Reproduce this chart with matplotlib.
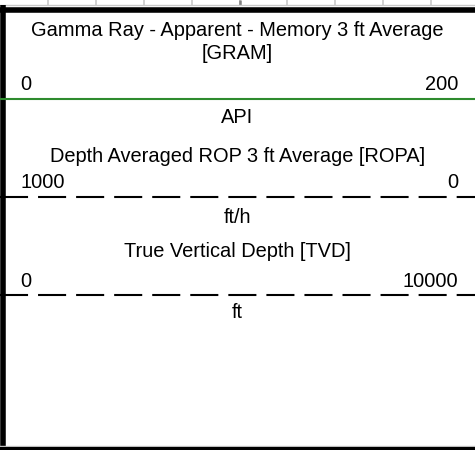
import matplotlib
matplotlib.use("Agg")
import matplotlib.pyplot as plt
import numpy as np

# curve header data (top to bottom)
curve_titles = [
    ["Gamma Ray - Apparent - Memory 3 ft Average", "[GRAM]"],
    ["Depth Averaged ROP 3 ft Average [ROPA]"],
    ["True Vertical Depth [TVD]"],
]
scale_left = ["0", "1000", "0"]
scale_right = ["200", "0", "10000"]
units = ["API", "ft/h", "ft"]

# styles / layout (pixel coordinates, y down)
line_colors = ["#2e8b2e", "black", "black"]
line_dashes = [None, (20.2, 7.2), (20.2, 7.2)]
title_baselines = [[36, 59], [162], [257]]
scale_baseline = [90, 188, 287]
line_y = [98.5, 197, 295]
unit_baseline = [123, 223, 318]

W, H = 475, 450
plt.rcParams["font.family"] = ["Liberation Sans", "DejaVu Sans"]
plt.rcParams["lines.scale_dashes"] = False
FS = 14.4

fig = plt.figure(figsize=(W / 100, H / 100), dpi=100)
ax = fig.add_axes([0, 0, 1, 1])
ax.set_xlim(0, W)
ax.set_ylim(H, 0)
ax.axis("off")

# strip of the track grid above the header
grid_x = np.arange(1, 10) * 47.9
ax.vlines(grid_x, 0, 5, color="#c8c8c8", lw=1.2)
ax.vlines(grid_x[4], 0, 5, color="#808080", lw=1.8)
ax.axhline(5, color="#c8c8c8", lw=1)
ax.axhline(9.5, color="black", lw=4)

# header frame
ax.plot([2.5, 2.5], [5, H], color="black", lw=4, solid_capstyle="butt")
ax.axhline(446, color="#d0d0d0", lw=1)
ax.axhline(448.5, color="black", lw=3)

for i in range(len(units)):
    for txt, yb in zip(curve_titles[i], title_baselines[i]):
        ax.text(W / 2, yb, txt, ha="center", va="baseline", fontsize=FS)
    ax.text(20, scale_baseline[i], scale_left[i], ha="left", va="baseline", fontsize=FS)
    ax.text(458, scale_baseline[i], scale_right[i], ha="right", va="baseline", fontsize=FS)
    ln, = ax.plot([0, W], [line_y[i], line_y[i]], color=line_colors[i], lw=1.5)
    if line_dashes[i] is not None:
        ln.set_dashes(line_dashes[i])
        ln.set_dash_capstyle("butt")
    ax.text(W / 2, unit_baseline[i], units[i], ha="center", va="baseline", fontsize=FS)

fig.savefig("out.png", dpi=100)
